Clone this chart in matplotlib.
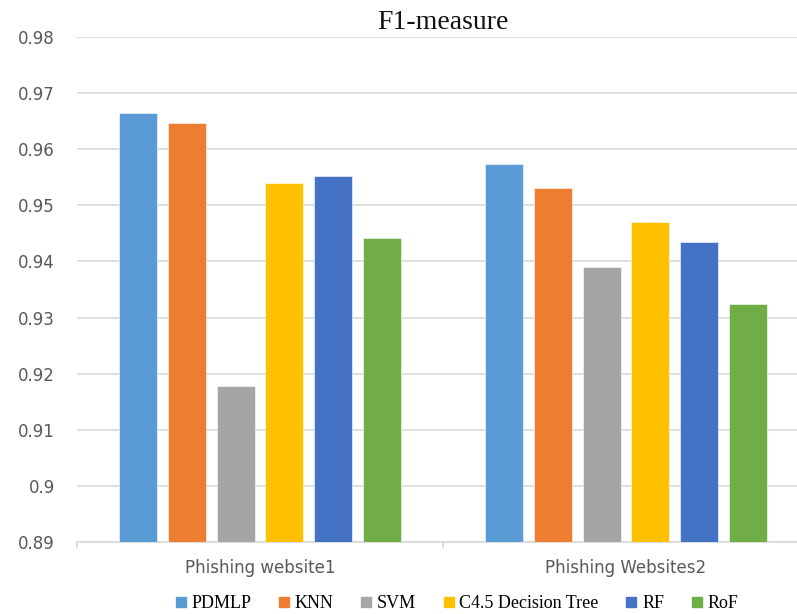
import matplotlib
matplotlib.use("Agg")
import matplotlib.pyplot as plt
from matplotlib.lines import Line2D
import numpy as np

categories = ["Phishing website1", "Phishing Websites2"]
models = ["PDMLP", "KNN", "SVM", "C4.5 Decision Tree", "RF", "RoF"]
values = {
    "PDMLP": [0.9665, 0.9573],
    "KNN": [0.9647, 0.9531],
    "SVM": [0.9178, 0.9390],
    "C4.5 Decision Tree": [0.9539, 0.9470],
    "RF": [0.9553, 0.9435],
    "RoF": [0.9441, 0.9324],
}
colors = ["#5B9BD5", "#ED7D31", "#A5A5A5", "#FFC000", "#4472C4", "#70AD47"]
yticks = [0.89, 0.9, 0.91, 0.92, 0.93, 0.94, 0.95, 0.96, 0.97, 0.98]
ytick_labels = ["0.89", "0.9", "0.91", "0.92", "0.93", "0.94", "0.95", "0.96", "0.97", "0.98"]

W, H = 797, 614
fig = plt.figure(figsize=(W / 100, H / 100), dpi=100)
ax = fig.add_axes([77 / W, 1 - 542 / H, 732 / W, (542 - 37) / H])

x = np.arange(len(categories))
step = 0.133
width = 0.104
n = len(models)
for i, (m, c) in enumerate(zip(models, colors)):
    off = (i - (n - 1) / 2) * step
    ax.bar(x + off, values[m], width=width, color=c, edgecolor="white",
           linewidth=0.4, zorder=3, label=m)

ax.set_ylim(0.89, 0.98)
ax.set_xlim(-0.5, 1.5)
ax.set_yticks(yticks)
ax.set_yticklabels(ytick_labels)
ax.yaxis.grid(True, color="#D9D9D9", linewidth=1.2, zorder=0)
ax.set_axisbelow(True)
for s in ["top", "right", "left"]:
    ax.spines[s].set_visible(False)
ax.spines["bottom"].set_color("#D9D9D9")
ax.spines["bottom"].set_linewidth(1.2)
ax.tick_params(axis="y", length=0, pad=16, labelsize=12, labelcolor="#595959")
ax.set_xticks(x)
ax.set_xticklabels(categories)
ax.tick_params(axis="x", which="major", length=0, pad=12, labelsize=12, labelcolor="#595959")
ax.set_xticks([-0.5, 0.5, 1.5], minor=True)
ax.tick_params(axis="x", which="minor", length=4.5, width=1.2, color="#D9D9D9")
for lbl in ax.get_yticklabels() + ax.get_xticklabels():
    lbl.set_fontfamily("DejaVu Sans")

ax.set_title("F1-measure", fontfamily="Liberation Serif", fontsize=20, pad=6, color="#111111")

handles = [Line2D([0], [0], marker="s", linestyle="none", markersize=7.5,
                  markerfacecolor=c, markeredgecolor=c) for c in colors]
fig.legend(handles, models, loc="center", bbox_to_anchor=(455 / W, 1 - 604 / H),
           ncol=6, frameon=False, prop={"family": "Liberation Serif", "size": 13},
           handletextpad=0.1, columnspacing=1.3, handlelength=1.0)

fig.savefig("out.png", dpi=100)
